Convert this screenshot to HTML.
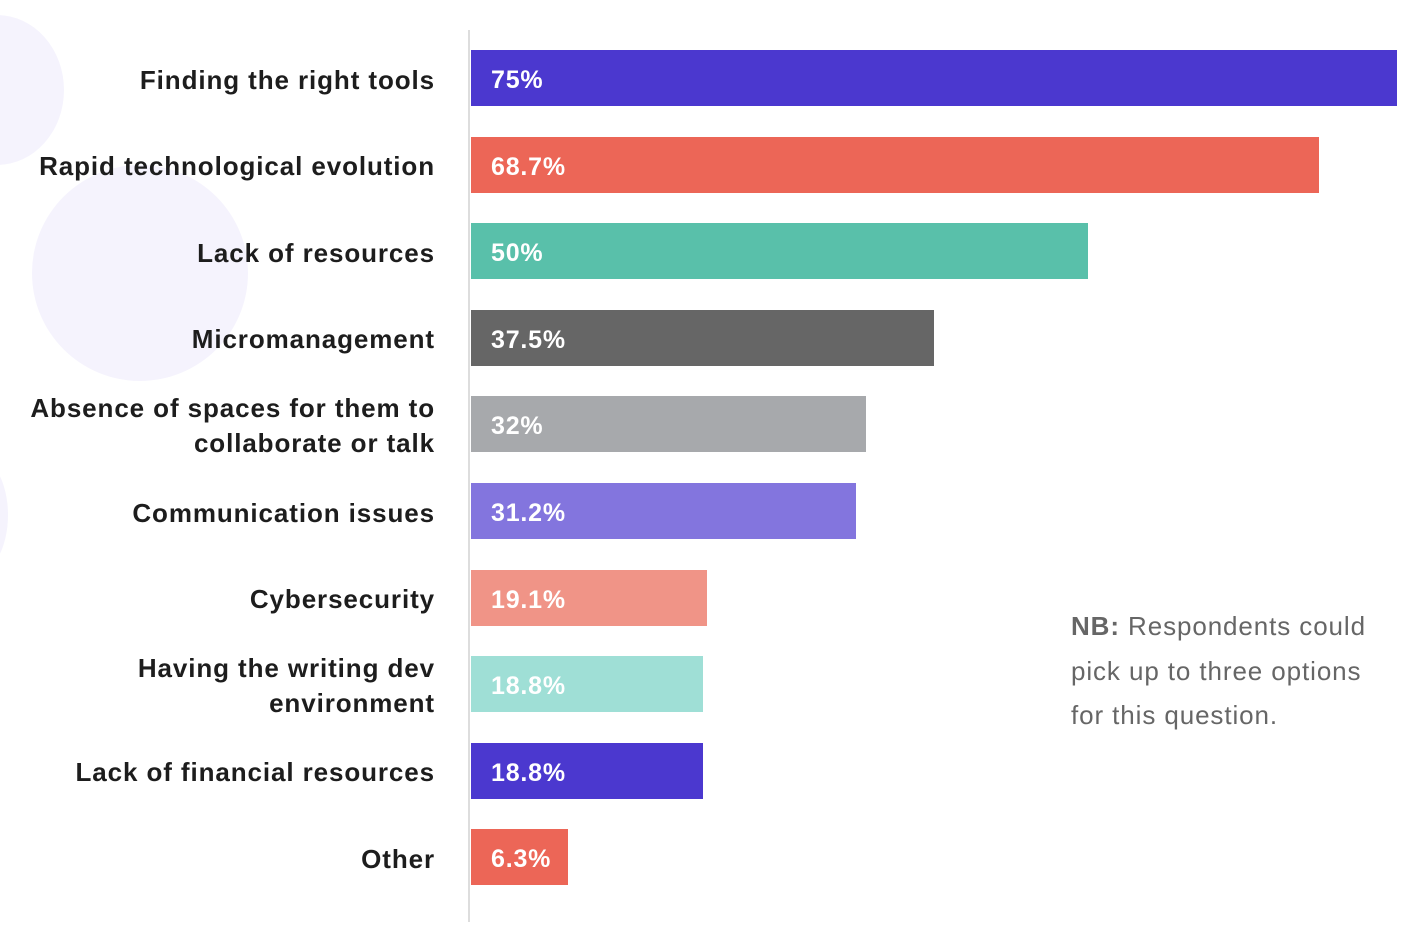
<!DOCTYPE html>
<html><head><meta charset="utf-8">
<style>
html,body{margin:0;padding:0;background:#fff;}
body{width:1428px;height:936px;position:relative;overflow:hidden;font-family:"Liberation Sans",sans-serif;}
.circ{position:absolute;border-radius:50%;background:#f5f3fd;}
.lbl{position:absolute;right:993px;text-align:right;font-weight:bold;font-size:26px;letter-spacing:0.9px;color:#1d1d1d;line-height:35px;white-space:nowrap;}
.bar{position:absolute;left:471px;height:56px;min-width:97px;}
.val{position:absolute;left:20px;top:2px;line-height:56px;color:#fff;font-weight:bold;font-size:25px;letter-spacing:0.8px;}
#note{position:absolute;left:1071px;top:604px;font-size:26px;line-height:44.5px;color:#666;letter-spacing:0.9px;}
</style></head><body>
<div class="circ" style="left:-70px;top:15px;width:134px;height:150px;"></div>
<div class="circ" style="left:32px;top:165px;width:216px;height:216px;"></div>
<div class="circ" style="left:-60px;top:455px;width:68px;height:120px;"></div>
<div style="position:absolute;left:468px;top:30px;width:2px;height:892px;background:#ddd;"></div>
<div id="chart"></div>
<div id="note"><b>NB:</b> Respondents could<br>pick up to three options<br>for this question.</div>
<script>
const categories=["Finding the right tools","Rapid technological evolution","Lack of resources","Micromanagement","Absence of spaces for them to<br>collaborate or talk","Communication issues","Cybersecurity","Having the writing dev<br>environment","Lack of financial resources","Other"];
const values=[75,68.7,50,37.5,32,31.2,19.1,18.8,18.8,6.3];
const valueLabels=["75%","68.7%","50%","37.5%","32%","31.2%","19.1%","18.8%","18.8%","6.3%"];
const colors=["#4b38cf","#ec6657","#59c0aa","#666666","#a7a9ac","#8375de","#f09487","#9fdfd6","#4b38cf","#ec6657"];
const xScale=v=>v*926/75;
const yScale=i=>50+i*86.6;
const chart=document.getElementById('chart');
categories.forEach((c,i)=>{
  const y=yScale(i);
  const b=document.createElement('div');
  b.className='bar';
  
  
  b.style.top=y+'px';b.style.width=xScale(values[i])+'px';b.style.background=colors[i];
  const v=document.createElement('div');
  v.className='val';
  
  
  v.textContent=valueLabels[i];
  b.appendChild(v);chart.appendChild(b);
  const l=document.createElement('div');
  l.className='lbl';
  
  
  l.innerHTML=c;
  const lines=c.split('<br>').length;
  l.style.top=(y+30-lines*17.5)+'px';
  chart.appendChild(l);
});
</script>
</body></html>
